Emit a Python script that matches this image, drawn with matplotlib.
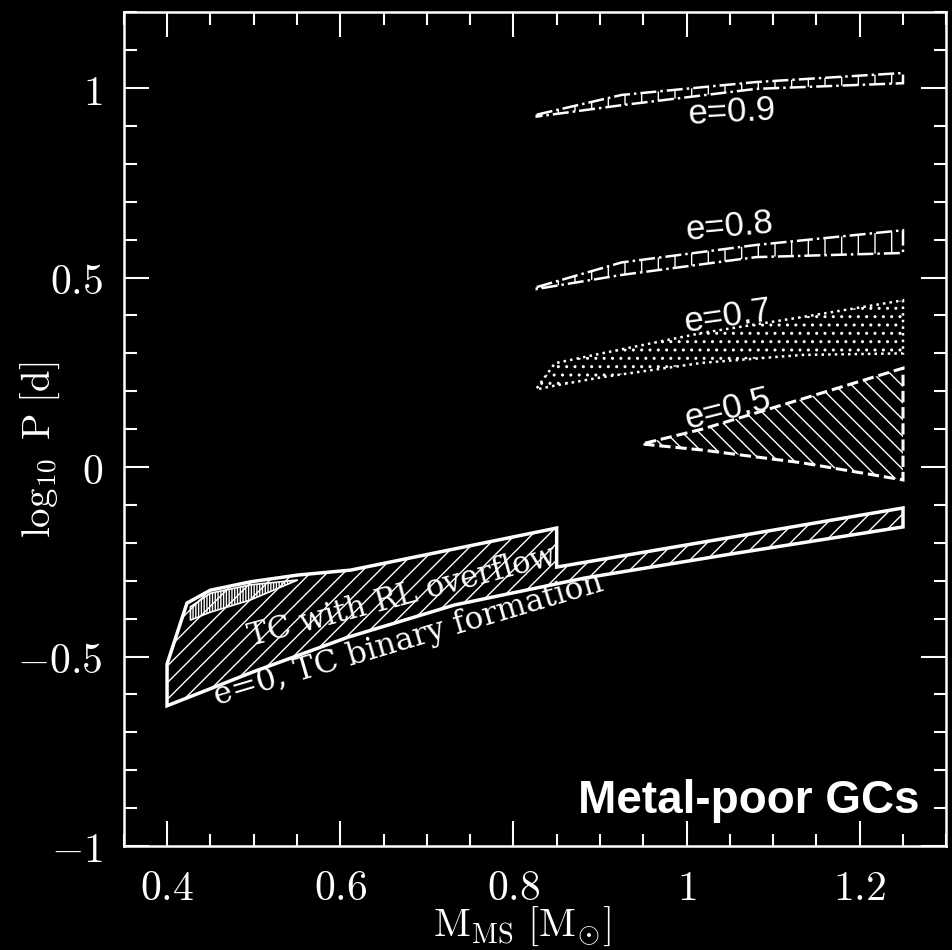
import matplotlib
matplotlib.use('Agg')
import matplotlib.pyplot as plt
from matplotlib.ticker import MultipleLocator

plt.rcParams['mathtext.fontset'] = 'cm'
plt.rcParams['hatch.color'] = 'white'
plt.rcParams['hatch.linewidth'] = 1.0

# e = 0.9 band
e09_x = [0.827, 0.925, 1.08, 1.25]
e09_hi = [0.93, 0.982, 1.016, 1.04]
e09_lo = [0.925, 0.955, 0.998, 1.013]

# e = 0.8 band
e08_x = [0.827, 0.925, 1.08, 1.25]
e08_hi = [0.475, 0.54, 0.586, 0.625]
e08_lo = [0.47, 0.507, 0.554, 0.565]

# e = 0.7 band
e07_x = [0.827, 0.848, 0.902, 1.018, 1.134, 1.25]
e07_hi = [0.208, 0.274, 0.30, 0.354, 0.396, 0.44]
e07_lo = [0.205, 0.215, 0.237, 0.275, 0.296, 0.30]

# e = 0.5 band
e05_x = [0.952, 1.018, 1.134, 1.25]
e05_hi = [0.063, 0.1, 0.18, 0.261]
e05_lo = [0.06, 0.045, 0.011, -0.034]

# TC with RL overflow + e=0 region: top outline (with notch at 0.85), bottom outline
rl_top_x = [0.4, 0.4, 0.423, 0.45, 0.496, 0.551, 0.612, 0.85, 0.85, 1.25, 1.25]
rl_top_y = [-0.63, -0.52, -0.359, -0.325, -0.303, -0.285, -0.272, -0.161, -0.264, -0.108, -0.158]
rl_bot_x = [0.4, 0.5, 0.609, 0.732, 0.882, 1.05]
rl_bot_y = [-0.63, -0.54, -0.449, -0.364, -0.293, -0.23]

# small densely hatched lens
lens_x = [0.427, 0.45, 0.496, 0.551]
lens_hi = [-0.369, -0.333, -0.311, -0.298]
lens_lo = [-0.404, -0.383, -0.351, -0.298]

x_ticks = [0.4, 0.6, 0.8, 1, 1.2]
x_labels = ['$0.4$', '$0.6$', '$0.8$', '$1$', '$1.2$']
y_ticks = [-1, -0.5, 0, 0.5, 1]
y_labels = ['$-1$', '$-0.5$', '$0$', '$0.5$', '$1$']


def band(ax, x, hi, lo, hatch, ls, lw=1.8):
    xs = list(x) + list(x[::-1])
    ys = list(hi) + list(lo[::-1])
    ax.fill(xs, ys, facecolor='none', edgecolor='white', hatch=hatch,
            linestyle=ls, linewidth=lw)


fig = plt.figure(figsize=(9.52, 9.5), dpi=100, facecolor='black')
ax = fig.add_axes([0.130, 0.1095, 0.864, 0.8775])
ax.set_facecolor('black')

band(ax, e09_x, e09_hi, e09_lo, '|', '-.')
band(ax, e08_x, e08_hi, e08_lo, '|', '-.')
band(ax, e07_x, e07_hi, e07_lo, '..', ':')
band(ax, e05_x, e05_hi, e05_lo, '\\\\', '--', 2.2)

rl_x = rl_top_x + rl_bot_x[::-1]
rl_y = rl_top_y + rl_bot_y[::-1]
ax.fill(rl_x, rl_y, facecolor='none', edgecolor='white', hatch='//', linewidth=2.5)
band(ax, lens_x, lens_hi, lens_lo, '||||||', '-', 1.2)

sans = 'Liberation Sans'
ax.text(1.052, 0.937, 'e=0.9', color='white', fontsize=25, family=sans,
        rotation=3, ha='center', va='center', rotation_mode='anchor')
ax.text(1.05, 0.633, 'e=0.8', color='white', fontsize=25, family=sans,
        rotation=5, ha='center', va='center', rotation_mode='anchor')
ax.text(1.048, 0.397, 'e=0.7', color='white', fontsize=25, family=sans,
        rotation=8, ha='center', va='center', rotation_mode='anchor')
ax.text(1.048, 0.152, 'e=0.5', color='white', fontsize=25, family=sans,
        rotation=14, ha='center', va='center', rotation_mode='anchor')

ax.text(0.672, -0.342, 'TC with RL overflow', color='white', fontsize=22,
        family='DejaVu Serif', rotation=15, ha='center', va='center',
        rotation_mode='anchor')
ax.text(0.679, -0.456, 'e=0, TC binary formation', color='white', fontsize=22.5,
        family='DejaVu Serif', rotation=16.5, ha='center', va='center',
        rotation_mode='anchor')

ax.text(0.968, 0.04, 'Metal-poor GCs', transform=ax.transAxes, color='white',
        fontsize=33, family=sans, weight='bold', ha='right', va='baseline')

ax.set_xlim(0.35, 1.3)
ax.set_ylim(-1, 1.2)
ax.set_xticks(x_ticks, x_labels)
ax.set_yticks(y_ticks, y_labels)
ax.xaxis.set_minor_locator(MultipleLocator(0.05))
ax.yaxis.set_minor_locator(MultipleLocator(0.1))
ax.tick_params(which='both', direction='in', top=True, right=True,
               colors='white', width=1.5, labelsize=30, pad=15)
ax.tick_params(which='major', length=18)
ax.tick_params(which='minor', length=9)
for s in ax.spines.values():
    s.set_color('white')
    s.set_linewidth(1.8)

ax.set_xlabel(r'$\mathrm{M_{MS}}\ [\mathrm{M_{\odot}}]$', color='white', fontsize=29)
ax.set_ylabel(r'$\log_{10}\ \mathrm{P}\ [\mathrm{d}]$', color='white', fontsize=28)
ax.xaxis.set_label_coords(0.484, -0.071)
ax.yaxis.set_label_coords(-0.075, 0.475)

fig.savefig('out.png', dpi=100, facecolor='black')
